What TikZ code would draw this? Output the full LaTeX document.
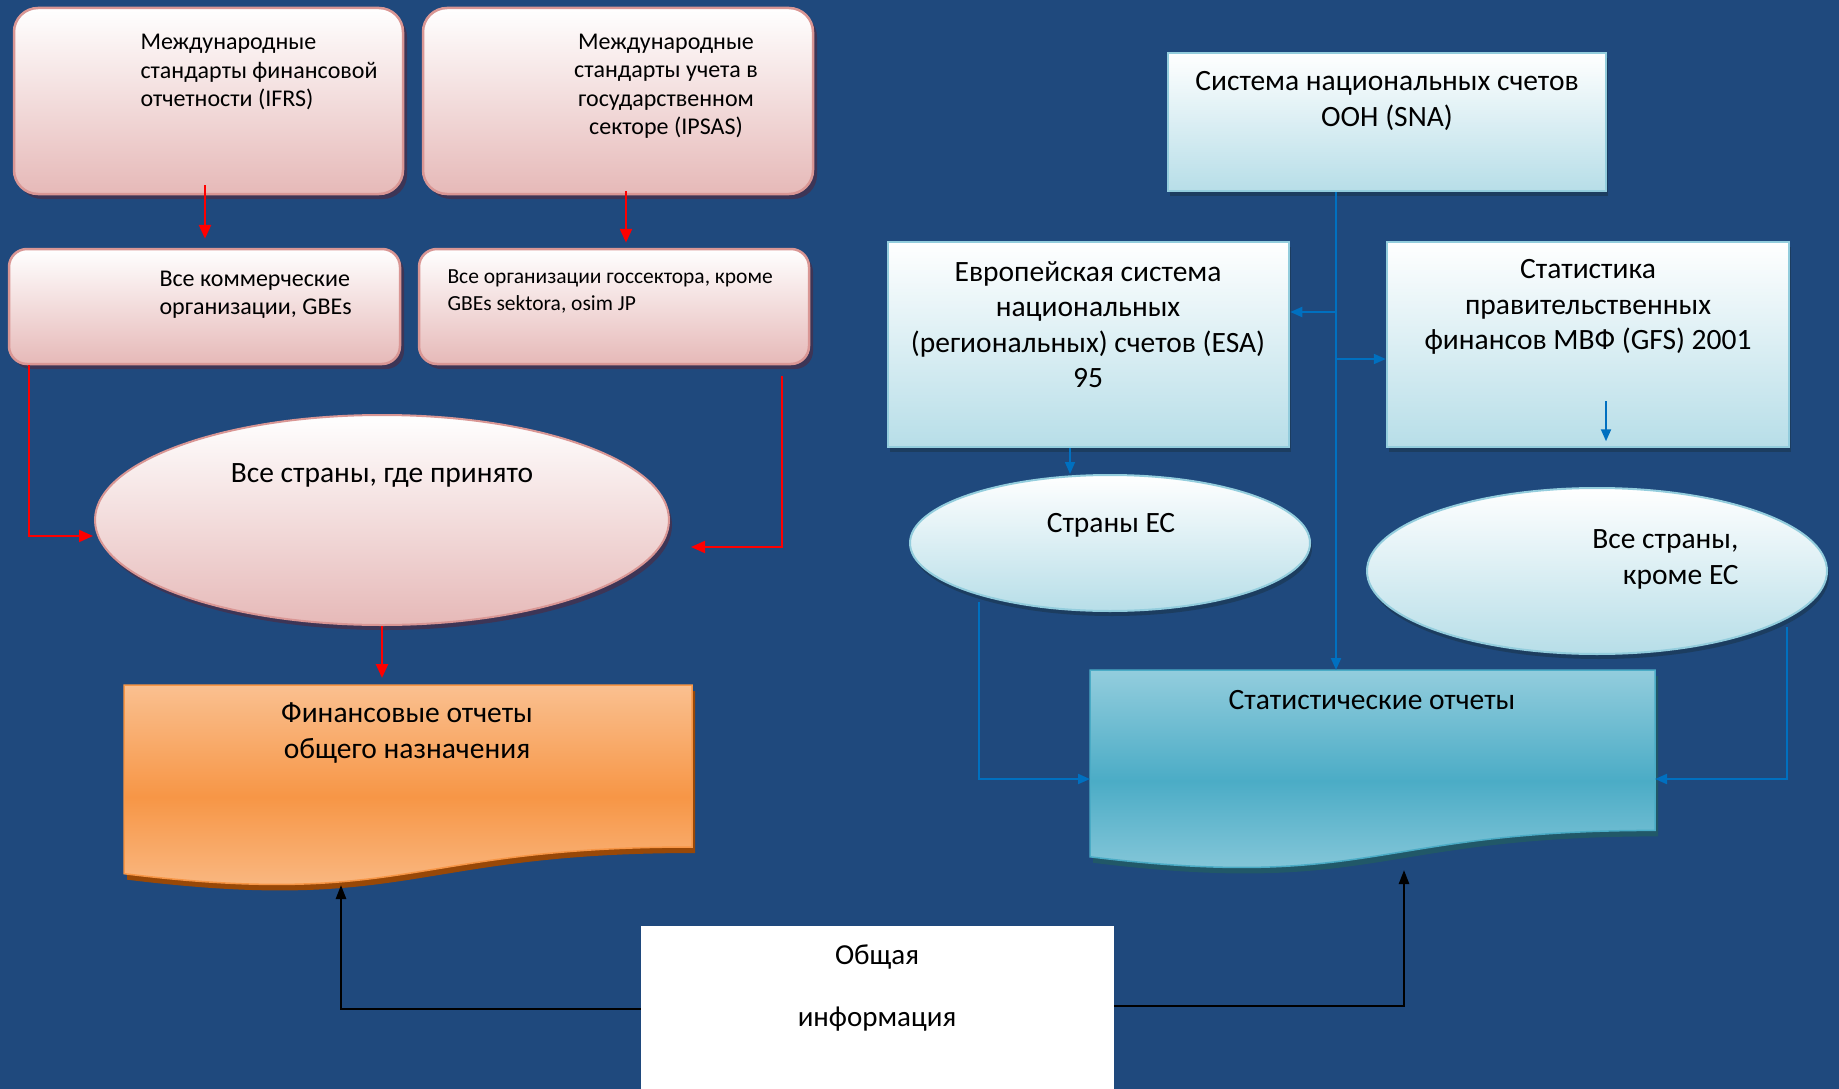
\documentclass[tikz,border=0pt]{standalone}
\usepackage{fontspec}
\setmainfont{Carlito}
\usetikzlibrary{shapes.geometric}
\usetikzlibrary{shadows}
\usetikzlibrary{calc}
\usetikzlibrary{arrows.meta}
\definecolor{bgblue}{HTML}{1F497D}
\definecolor{pinkline}{HTML}{D99694}
\definecolor{pinkfill}{HTML}{E6B9B8}
\definecolor{pinkshadow}{HTML}{3D3556}
\definecolor{blueline}{HTML}{93CDDD}
\definecolor{bluefill}{HTML}{B7DEE8}
\definecolor{blueshadow}{HTML}{1C3D60}
\definecolor{orangemid}{HTML}{F79646}
\definecolor{orangelight}{HTML}{FAC090}
\definecolor{orangeshadow}{HTML}{984807}
\definecolor{tealmid}{HTML}{4BACC6}
\definecolor{teallight}{HTML}{93CDDD}
\definecolor{tealshadow}{HTML}{215868}
\definecolor{arrowblue}{HTML}{0070C0}

\begin{document}
\begin{tikzpicture}[x=1pt,y=-1pt,
            pink box/.style={draw=pinkline,line width=2.5pt,rounded corners=24pt,top color=white,bottom color=pinkfill,inner sep=0pt,
                drop shadow={shadow xshift=4pt,shadow yshift=-5pt,fill=pinkshadow,opacity=1}},
            pink ell/.style={ellipse,draw=pinkline,line width=2pt,top color=white,bottom color=pinkfill,inner sep=0pt,
                drop shadow={shadow xshift=3pt,shadow yshift=-5pt,fill=pinkshadow,opacity=1}},
            blue box/.style={draw=blueline,line width=2.5pt,top color=white,bottom color=bluefill,inner sep=0pt,
                drop shadow={shadow xshift=2pt,shadow yshift=-5pt,fill=blueshadow,opacity=1}},
            blue ell/.style={ellipse,draw=blueline,line width=2pt,top color=white,bottom color=bluefill,inner sep=0pt,
                drop shadow={shadow xshift=2pt,shadow yshift=-5pt,fill=blueshadow,opacity=1}},
            doc place/.style={inner sep=0pt,outer sep=0pt},
            fin doc/.style={draw=orangemid,line width=1.5pt,top color=orangelight,bottom color=orangelight,middle color=orangemid,
                drop shadow={shadow xshift=3pt,shadow yshift=-6pt,fill=orangeshadow,opacity=1}},
            stat doc/.style={draw=tealmid,line width=1.5pt,top color=teallight,bottom color=teallight,middle color=tealmid,
                drop shadow={shadow xshift=3pt,shadow yshift=-6pt,fill=tealshadow,opacity=1}},
            info box/.style={fill=white,inner sep=0pt},
            big text/.style={align=center,font=\fontsize{29.5}{35.5}\selectfont},
            mid text/.style={align=center,font=\fontsize{24}{28.5}\selectfont},
            small text/.style={align=left,font=\fontsize{21.5}{27}\selectfont},
            red arrow/.style={draw=red,line width=2.5pt,-{Triangle[length=14pt,width=12pt]}},
            blue arrow/.style={draw=arrowblue,line width=2pt,-{Triangle[length=12pt,width=10pt]}},
            black arrow/.style={draw=black,line width=2.5pt,-{Triangle[length=14pt,width=10pt]}},
            ]

            \useasboundingbox (0,0) rectangle (1839,1089);
            \fill[bgblue] (0,0) rectangle (1839,1089);

            % left half
            \node[pink box,minimum width=389pt,minimum height=186pt] (ifrs) at (208.5,101) {};
            \node[pink box,minimum width=390pt,minimum height=186pt] (ipsas) at (618,101) {};
            \node[pink box,rounded corners=18pt,minimum width=391pt,minimum height=115pt] (gbe) at (204.5,306.5) {};
            \node[pink box,rounded corners=18pt,minimum width=390pt,minimum height=115pt] (gov) at (614,306.5) {};
            \node[pink ell,minimum width=574pt,minimum height=210pt] (allc) at (382,520) {};
            \node[doc place,minimum width=568pt,minimum height=202pt] (fin) at (408,786) {};
            \draw[fin doc] (fin.north west) -- (fin.north east) -- ($(fin.north east)!0.802!(fin.south east)$)
                .. controls ($(fin.north)!0.802!(fin.south)$) and ($(fin.north)!1.1075!(fin.south)$) .. ($(fin.north west)!0.934!(fin.south west)$) -- cycle;

            \node[mid text,align=left,anchor=west] (ifrstext) at (137,72) {Международные\\стандарты финансовой\\отчетности (IFRS)};
            \node[mid text] (ipsastext) at (666,86) {Международные\\стандарты учета в\\государственном\\секторе (IPSAS)};
            \node[mid text,align=left,anchor=west] (gbetext) at (156,295) {Все коммерческие\\организации, GBEs};
            \node[small text,anchor=west] (govtext) at (444,291.5) {Все организации госсектора, кроме\\GBEs sektora, osim JP};
            \node[big text] (allctext) at (382,475) {Все страны, где принято};
            \node[big text] (fintext) at (407,733) {Финансовые отчеты\\общего назначения};

            % right half
            \node[blue box,minimum width=438pt,minimum height=138pt] (sna) at (1387,122) {};
            \node[blue box,minimum width=401pt,minimum height=205pt] (esa) at (1088.5,344.5) {};
            \node[blue box,minimum width=402pt,minimum height=205pt] (gfs) at (1588,344.5) {};
            \node[blue ell,minimum width=400pt,minimum height=136pt] (eu) at (1110,543) {};
            \node[blue ell,minimum width=460pt,minimum height=166pt] (noneu) at (1597,571) {};
            \node[doc place,minimum width=565pt,minimum height=200pt] (stat) at (1372.5,770) {};
            \draw[stat doc] (stat.north west) -- (stat.north east) -- ($(stat.north east)!0.802!(stat.south east)$)
                .. controls ($(stat.north)!0.802!(stat.south)$) and ($(stat.north)!1.1075!(stat.south)$) .. ($(stat.north west)!0.934!(stat.south west)$) -- cycle;

            \node[big text] (snatext) at (1387,101) {Система национальных счетов\\ООН (SNA)};
            \node[big text] (esatext) at (1088,324.5) {Европейская система\\национальных\\(региональных) счетов (ESA)\\95};
            \node[big text] (gfstext) at (1588,307) {Статистика\\правительственных\\финансов МВФ (GFS) 2001};
            \node[big text] (eutext) at (1111,525) {Страны ЕС};
            \node[big text,align=right,anchor=east] (noneutext) at (1742,559.5) {Все страны,\\кроме ЕС};
            \node[big text] (stattext) at (1372,700) {Статистические отчеты};

            % bottom
            \node[info box,minimum width=473pt,minimum height=174pt] (info) at (877.5,1013) {};
            \node[align=center,font=\fontsize{29}{62}\selectfont] (infotext) at (877,988) {Общая\\информация};

            % connectors
            \draw[red arrow] ([xshift=-3.5pt,yshift=10pt]ifrs.south) -- ([xshift=0.5pt,yshift=9pt]gbe.north);
            \draw[red arrow] ([xshift=8pt,yshift=4pt]ipsas.south) -- ([xshift=12pt,yshift=5pt]gov.north);
            \draw[red arrow,line width=2pt] ([xshift=21pt]gbe.south west) |- ([xshift=-1pt,yshift=-16pt]allc.west);
            \draw[red arrow,line width=2pt] ([xshift=-28pt,yshift=-11pt]gov.south east) |- ([xshift=21pt,yshift=-27pt]allc.east);
            \draw[red arrow] (allc.south) -- ([xshift=-26pt,yshift=7pt]fin.north);

            \coordinate (trunk) at ([xshift=-51pt]sna.south);
            \coordinate (esain) at ([yshift=32.5pt]esa.east);
            \coordinate (gfsin) at ([yshift=-14.5pt]gfs.west);
            \draw[blue arrow] (trunk) -- (trunk |- stat.north);
            \draw[blue arrow] (esain -| trunk) -- (esain);
            \draw[blue arrow] (gfsin -| trunk) -- (gfsin);
            \draw[blue arrow] ([xshift=18pt,yshift=47pt]gfs.south) -- ([xshift=18pt,yshift=7pt]gfs.south);
            \draw[blue arrow,line width=1.5pt] ([xshift=-18.5pt]esa.south) -- ([xshift=-18.5pt]esa.south |- eu.north);
            \draw[blue arrow] ([xshift=-131pt,yshift=-59pt]eu.center) |- ([yshift=-9pt]stat.west);
            \draw[blue arrow] ([xshift=190pt,yshift=-56pt]noneu.center) |- ([yshift=-9pt]stat.east);

            \draw[black arrow] ([yshift=4pt]info.west) -| ([xshift=-67pt,yshift=2pt]fin.south);
            \draw[black arrow] ([yshift=7pt]info.east) -| ([xshift=31.5pt]stat.south);
        \end{tikzpicture}
\end{document}
